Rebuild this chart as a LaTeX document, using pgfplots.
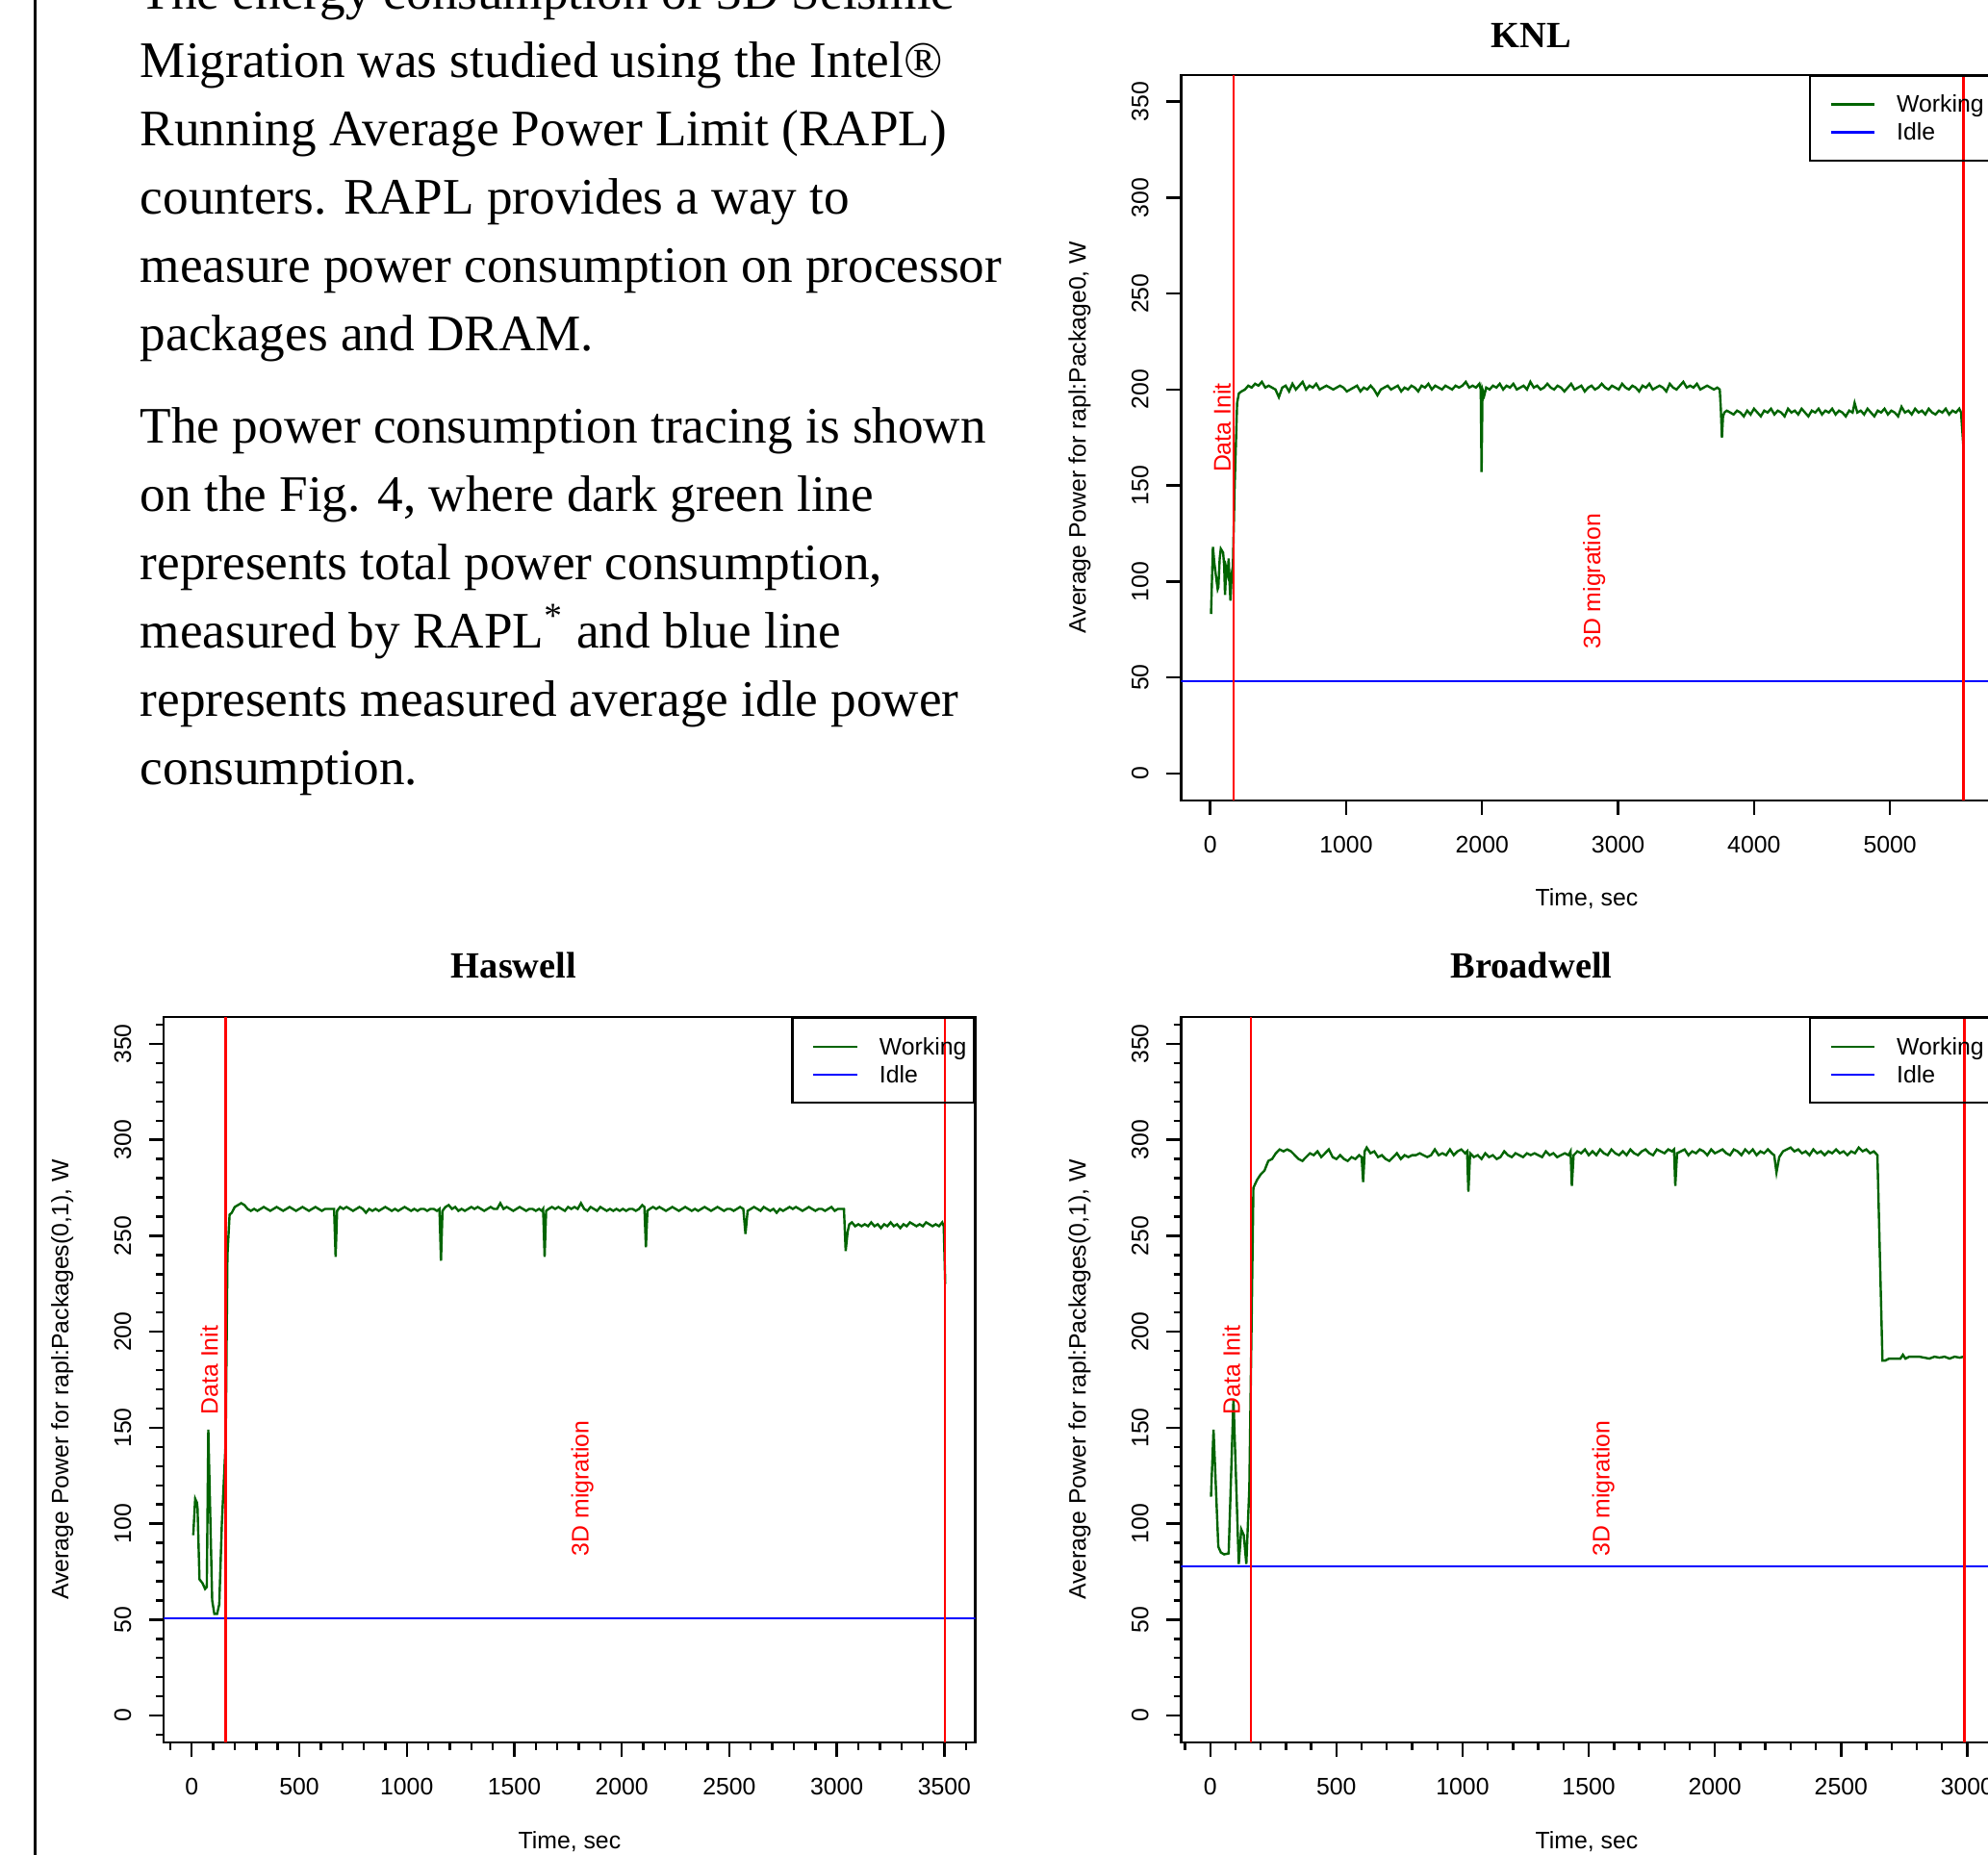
\documentclass[border=0pt]{standalone}
\usepackage{fontspec}
\setmainfont{Liberation Serif}
\newfontfamily\arialfont{Liberation Sans}
\usepackage{pgfplots}
\pgfplotsset{compat=1.18}
\definecolor{dgreen}{HTML}{006400}
\newcommand{\sfsz}{\arialfont\fontsize{6.2}{7.2}\selectfont}
\pgfplotsset{
  rplot/.style={
    scale only axis, width=210.9pt, height=188.5pt,
    ymin=-14, ymax=364,
    ytick={0,50,...,350},
    axis line style={line width=0.6pt, black},
    every tick/.append style={black, line width=0.6pt},
    tick align=outside,
    xtick pos=left, ytick pos=left,
    major tick length=3.75pt,
    minor tick length=1.9pt,
    ticklabel style={font=\sfsz},
    /pgf/number format/assume math mode=true,
    /pgf/number format/1000 sep={},
    yticklabel style={xshift=-4.75pt, rotate=90, anchor=base, inner sep=0pt},
    xticklabel style={yshift=-5.4pt, anchor=north, inner sep=0pt},
    legend style={at={(rel axis cs:1,1)}, anchor=north east, draw=black, line width=0.6pt, fill=none,
      inner xsep=2.0pt, inner ysep=5.07pt, row sep=2.75pt, column sep=5.5pt, font=\sfsz,
      nodes={inner sep=0pt, text height=4.4pt, text depth=0.15pt, anchor=base west}},
    legend cell align=left,
    legend image code/.code={\path[draw=none] (0pt,0pt) -- (14.75pt,0pt); \draw[#1] (3.4pt,2.1pt) -- (14.75pt,2.1pt);},
  },
  rminor/.style={minor ytick={-10,0,...,360}},
}
\begin{document}
\begin{tikzpicture}
\useasboundingbox (0,0) rectangle (516.5pt,-481.75pt);
\clip (0,0) rectangle (516.5pt,-481.75pt);
\begin{scope}[x=0.25pt, y=-0.25pt]
\draw[line width=0.75pt] (36.5,-20) -- (36.5,1950);
\begin{scope}[every node/.style={anchor=base west, inner sep=0pt, font=\fontsize{13.3}{16}\selectfont}]
\node at (145,9.5) {The energy consumption of 3D Seismic};
\node at (145,80.5) {Migration was studied using the Intel®};
\node at (145,151.5) {Running Average Power Limit (RAPL)};
\node at (145,222.5) {counters. RAPL provides a way to};
\node at (145,293.5) {measure power consumption on processor};
\node at (145,364.5) {packages and DRAM.};
\node at (145,460.5) {The power consumption tracing is shown};
\node at (145,531.5) {on the Fig. 4, where dark green line};
\node at (145,602.5) {represents total power consumption,};
\node at (145,673.5) {measured by RAPL\textsuperscript{*} and blue line};
\node at (145,744.5) {represents measured average idle power};
\node at (145,815.5) {consumption.};
\end{scope}
\begin{scope}[every node/.style={inner sep=0pt, font=\bfseries\fontsize{9.6}{11}\selectfont}]
\node at (1591.5,36.5) {KNL};
\node at (534,1003.5) {Haswell};
\node at (1591.5,1003.5) {Broadwell};
\end{scope}
\begin{scope}[every node/.style={inner sep=0pt, font=\sfsz, anchor=base}]
\node at (1649,941.7) {Time, sec};
\node at (591.9,1921) {Time, sec};
\node at (1649,1921) {Time, sec};
\node[rotate=90] at (1128.3,454.7) {Average Power for rapl:Package0, W};
\node[rotate=90] at (71,1434) {Average Power for rapl:Packages(0,1), W};
\node[rotate=90] at (1128.3,1434) {Average Power for rapl:Packages(0,1), W};
\end{scope}
\end{scope}

% ---------------- KNL ----------------
\begin{axis}[rplot, at={(306.825pt,-207.925pt)}, anchor=south west,
  xmin=-215, xmax=5756, xtick={0,1000,...,5000}]
\addplot[dgreen, line width=0.6pt] coordinates {
(6,83) (20,118) (30,110) (42,103) (55,96) (60,97) (70,112) (78,117) (95,115) (103,108) (109,93) (118,107) (128,104) (136,112) (142,100) (149,90) (158,104) (167,108) (180,150) (198,193) (211,198) (230,199) (256,200)
(280,202) (305,201) (330,203) (355,202) (380,204) (405,201) (430,202) (455,201) (480,200) (505,196) (530,201) (555,202) (580,199) (605,203) (630,200) (655,202) (680,204) (705,200) (730,202) (755,201) (780,203) (805,200) (830,201) (855,202) (880,201) (905,200) (930,201) (955,202) (980,201) (1005,199) (1030,200) (1055,201) (1080,202) (1105,199) (1130,201) (1155,200) (1180,202) (1205,200) (1230,197) (1255,200) (1280,201) (1305,202) (1330,200) (1355,201) (1380,202) (1405,199) (1430,201) (1455,200) (1480,202) (1505,201) (1530,199) (1555,202) (1580,201) (1605,203) (1630,200) (1655,202) (1680,201) (1705,200) (1730,202) (1755,201) (1780,200) (1805,202) (1830,201) (1855,202) (1880,204) (1905,201) (1930,202) (1955,201) (1980,203) (1990,200) (1996,157) (2003,200) (2016,197) (2030,201) (2055,200) (2080,202) (2105,201) (2130,203) (2155,200) (2180,202) (2205,201) (2230,203) (2255,200) (2280,201) (2305,202) (2330,200) (2355,204) (2380,201) (2405,202) (2430,200) (2455,201) (2480,203) (2505,201) (2530,200) (2555,202) (2580,201) (2605,199) (2630,201) (2655,203) (2680,200) (2705,201) (2730,202) (2755,199) (2780,201) (2805,202) (2830,200) (2855,201) (2880,203) (2905,201) (2930,200) (2955,202) (2980,201) (3005,200) (3030,203) (3055,201) (3080,200) (3105,202) (3130,201) (3155,199) (3180,202) (3205,201) (3230,203) (3255,200) (3280,201) (3305,202) (3330,201) (3355,199) (3380,203) (3405,201) (3430,200) (3455,202) (3480,204) (3505,201) (3530,202) (3555,201) (3580,203) (3605,200) (3630,201) (3655,202) (3680,201) (3705,200) (3730,201) (3748,200) (3756,190) (3764,175) (3772,186) (3782,188)
(3800,189) (3825,188) (3850,187) (3875,189) (3900,188) (3925,186) (3950,189) (3975,187) (4000,190) (4025,188) (4050,186) (4075,189) (4100,188) (4125,190) (4150,187) (4175,189) (4200,188) (4225,186) (4250,190) (4275,188) (4300,189) (4325,187) (4350,190) (4375,188) (4400,186) (4425,189) (4450,188) (4475,190) (4500,187) (4525,189) (4550,188) (4575,190) (4600,187) (4625,189) (4650,188) (4675,186) (4700,189) (4725,188) (4740,193) (4760,188) (4785,189) (4810,187) (4835,190) (4860,188) (4885,186) (4910,189) (4935,188) (4960,190) (4985,187) (5010,189) (5035,188) (5060,186) (5085,191) (5110,188) (5135,189) (5160,187) (5185,190) (5210,188) (5235,189) (5260,187) (5285,190) (5310,188) (5335,187) (5360,189) (5385,188) (5410,190) (5435,187) (5460,189) (5485,188) (5510,190) (5523,188) (5541,169)
};
\addlegendentry{Working}
\addplot[blue, line width=0.6pt] coordinates {(-215,48) (5756,48)};
\addlegendentry{Idle}
\addplot[red, line width=0.6pt, forget plot] coordinates {(174,-14) (174,364)};
\addplot[red, line width=0.6pt, forget plot] coordinates {(5540,-14) (5540,364)};
\node[red, font=\sfsz, rotate=90, inner sep=0pt] at (axis cs:87,180) {Data Init};
\node[red, font=\sfsz, rotate=90, inner sep=0pt] at (axis cs:2825,100) {3D migration};
\end{axis}

% ---------------- Haswell ----------------
\begin{axis}[rplot, rminor, at={(42.5pt,-452.75pt)}, anchor=south west,
  xmin=-131, xmax=3644, xtick={0,500,...,3500}, minor xtick={-100,0,...,3600}]
\addplot[dgreen, line width=0.6pt] coordinates {
(7,94) (16,113) (24,111) (27,108) (36,71) (50,69) (62,66) (70,67) (77,149) (95,60) (105,53) (118,53) (128,58) (140,100) (158,143) (166,240) (176,261)
(186,262) (200,265) (215,266) (230,267) (245,266) (260,264) (275,263) (290,264) (305,263) (320,264) (335,265) (350,264) (365,263) (380,264) (395,265) (410,264) (425,263) (440,264) (455,265) (470,264) (485,263) (500,264) (515,265) (530,264) (545,263) (560,264) (575,265) (590,264) (605,263) (620,264) (635,264) (650,264) (662,264) (669,239) (676,263)
(690,265) (705,264) (720,265) (735,264) (750,263) (765,264) (780,265) (795,264) (810,262) (825,264) (840,263) (855,264) (870,263) (885,264) (900,265) (915,264) (930,263) (945,264) (960,263) (975,264) (990,265) (1005,264) (1020,263) (1035,264) (1050,263) (1065,264) (1080,264) (1095,263) (1110,264) (1125,264) (1140,263) (1152,264) (1159,237) (1166,263)
(1180,265) (1195,266) (1210,264) (1225,265) (1240,263) (1255,264) (1270,263) (1285,264) (1300,265) (1315,264) (1330,265) (1345,264) (1360,263) (1375,264) (1390,265) (1405,264) (1420,264) (1435,267) (1450,264) (1465,265) (1480,264) (1495,263) (1510,264) (1525,265) (1540,264) (1555,263) (1570,264) (1585,264) (1600,263) (1615,264) (1628,263) (1634,264) (1641,239) (1648,263)
(1660,264) (1675,265) (1690,264) (1705,265) (1720,264) (1735,263) (1750,265) (1765,264) (1780,265) (1795,264) (1810,267) (1825,264) (1840,263) (1855,265) (1870,264) (1885,263) (1900,265) (1915,264) (1930,263) (1945,264) (1960,263) (1975,264) (1990,263) (2005,264) (2020,263) (2035,264) (2050,264) (2065,263) (2080,264) (2095,266) (2105,265) (2112,244) (2119,263)
(2130,264) (2145,265) (2160,264) (2175,265) (2190,264) (2205,263) (2220,264) (2235,265) (2250,264) (2265,263) (2280,264) (2295,265) (2310,264) (2325,263) (2340,264) (2355,263) (2370,264) (2385,265) (2400,264) (2415,263) (2430,264) (2445,265) (2460,264) (2475,263) (2490,264) (2505,264) (2520,263) (2535,264) (2550,265) (2565,264) (2575,251) (2585,263)
(2600,264) (2615,265) (2630,264) (2645,263) (2660,265) (2675,264) (2690,263) (2705,264) (2720,262) (2735,264) (2750,263) (2765,264) (2780,265) (2795,264) (2810,265) (2825,264) (2840,263) (2855,264) (2870,265) (2885,264) (2900,263) (2915,264) (2930,264) (2945,263) (2960,264) (2975,265) (2990,263) (3005,264) (3020,264) (3033,264) (3041,242) (3050,252) (3058,256)
(3070,257) (3085,255) (3100,256) (3115,255) (3130,256) (3145,255) (3160,257) (3175,255) (3190,256) (3205,254) (3220,256) (3235,255) (3250,257) (3265,255) (3280,256) (3295,254) (3310,256) (3325,255) (3340,257) (3355,256) (3370,255) (3385,256) (3400,255) (3415,257) (3430,256) (3445,255) (3460,256) (3475,255) (3490,257) (3497,255) (3504,225)
};
\addlegendentry{Working}
\addplot[blue, line width=0.6pt] coordinates {(-131,50.6) (3644,50.6)};
\addlegendentry{Idle}
\addplot[red, line width=0.6pt, forget plot] coordinates {(158,-14) (158,364)};
\addplot[red, line width=0.6pt, forget plot] coordinates {(3502,-14) (3502,364)};
\node[red, font=\sfsz, rotate=90, inner sep=0pt] at (axis cs:82,180) {Data Init};
\node[red, font=\sfsz, rotate=90, inner sep=0pt] at (axis cs:1816,118.5) {3D migration};
\end{axis}

% ---------------- Broadwell ----------------
\begin{axis}[rplot, rminor, at={(306.825pt,-452.75pt)}, anchor=south west,
  xmin=-116, xmax=3101, xtick={0,500,...,3000}, minor xtick={-100,0,...,3100}]
\addplot[dgreen, line width=0.6pt] coordinates {
(3,114) (13,149) (32,88) (42,85) (55,84) (73,84.5) (92,165) (113,79) (123,97) (133,94) (143,79) (155,119) (171,275) (185,279) (200,282) (215,284) (230,289) (245,290) (260,293) (275,295) (290,294)
(305,295) (320,294) (335,292) (350,290) (365,289) (380,291) (395,293) (410,292) (425,294) (440,291) (455,293) (470,295) (485,291) (500,290) (515,292) (530,290) (545,289) (560,291) (575,290) (590,292) (600,291) (606,278) (612,294) (620,296) (635,293) (650,294) (665,291) (680,292) (695,290) (710,289) (725,291) (740,293) (755,290) (770,292) (785,291) (800,292) (815,292) (830,293) (845,292) (860,291) (875,292) (890,295) (905,292) (920,293) (935,292) (950,295) (965,292) (980,294) (995,295) (1010,293) (1018,294) (1023,273) (1030,293)
(1045,291) (1060,292) (1075,290) (1090,293) (1105,291) (1120,292) (1135,290) (1150,291) (1165,294) (1180,292) (1195,291) (1210,293) (1225,292) (1240,291) (1255,293) (1270,292) (1285,293) (1300,292) (1315,291) (1330,294) (1345,292) (1360,293) (1375,291) (1390,292) (1405,293) (1420,292) (1428,294) (1433,276) (1440,292)
(1455,294) (1470,293) (1485,295) (1500,292) (1515,294) (1530,292) (1545,295) (1560,293) (1575,292) (1590,295) (1605,293) (1620,292) (1635,294) (1650,292) (1665,295) (1680,293) (1695,292) (1710,294) (1725,295) (1740,293) (1755,292) (1770,295) (1785,294) (1800,293) (1815,295) (1830,294) (1838,295) (1843,276) (1850,293)
(1865,294) (1880,295) (1895,292) (1910,294) (1925,293) (1940,295) (1955,294) (1970,292) (1985,295) (2000,293) (2015,294) (2030,295) (2045,293) (2060,292) (2075,295) (2090,294) (2105,292) (2120,295) (2135,293) (2150,295) (2165,292) (2180,294) (2195,293) (2210,295) (2225,293) (2235,292) (2244,283) (2255,291)
(2270,294) (2285,295) (2300,296) (2315,294) (2330,295) (2345,293) (2360,294) (2375,292) (2390,295) (2405,293) (2420,294) (2435,292) (2450,294) (2465,293) (2480,295) (2495,293) (2510,294) (2525,292) (2540,294) (2555,293) (2570,296) (2585,294) (2600,295) (2615,293) (2630,294) (2644,292)
(2664,185) (2675,185) (2690,186) (2705,186) (2720,186) (2735,186) (2745,188) (2755,186) (2770,187) (2790,187) (2810,187) (2830,186.5) (2850,186) (2870,187) (2890,186.5) (2910,187) (2930,186) (2950,187) (2970,186.5) (2985,187)
};
\addlegendentry{Working}
\addplot[blue, line width=0.6pt] coordinates {(-116,77.7) (3101,77.7)};
\addlegendentry{Idle}
\addplot[red, line width=0.6pt, forget plot] coordinates {(161,-14) (161,364)};
\addplot[red, line width=0.6pt, forget plot] coordinates {(2989,-14) (2989,364)};
\node[red, font=\sfsz, rotate=90, inner sep=0pt] at (axis cs:84,180) {Data Init};
\node[red, font=\sfsz, rotate=90, inner sep=0pt] at (axis cs:1558,118.5) {3D migration};
\end{axis}
\end{tikzpicture}
\end{document}
